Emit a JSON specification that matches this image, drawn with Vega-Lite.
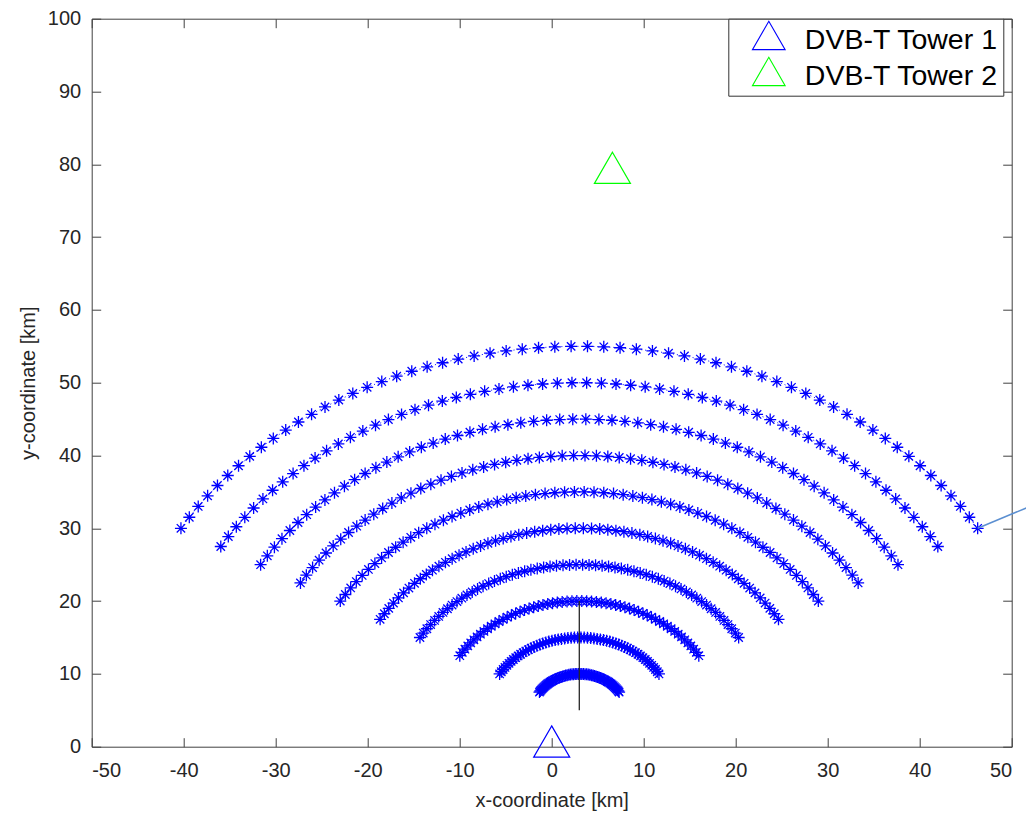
{
"$schema": "https://vega.github.io/schema/vega-lite/v6.json",
"width": 920,
"height": 728,
"autosize": {"type": "none"},
"padding": {"left": 91.7, "top": 18.7, "right": 14.3, "bottom": 68.3},
"background": "white",
"config": {
  "view": {"stroke": null},
  "font": "Liberation Sans",
  "axis": {"grid": false, "domainColor": "#404040", "tickColor": "#404040", "labelColor": "#262626", "titleColor": "#262626", "labelFont": "Liberation Sans", "titleFont": "Liberation Sans", "labelFontSize": 20, "titleFontSize": 20, "titleFontWeight": "normal", "tickSize": -9, "domainWidth": 1, "tickWidth": 1, "labelExpr": "replace(datum.label, '\u2212', '-')"}
},
"datasets": {
  "arcs": [
{"r":50,"x":2.11,"y":54.99},{"r":50,"x":0.34,"y":54.93},{"r":50,"x":-1.43,"y":54.80},{"r":50,"x":-3.20,"y":54.61},{"r":50,"x":-4.95,"y":54.36},{"r":50,"x":-6.70,"y":54.05},{"r":50,"x":-8.43,"y":53.68},{"r":50,"x":-10.16,"y":53.24},{"r":50,"x":-11.86,"y":52.74},{"r":50,"x":-13.54,"y":52.18},{"r":50,"x":-15.21,"y":51.57},{"r":50,"x":-16.85,"y":50.89},{"r":50,"x":-18.47,"y":50.16},{"r":50,"x":-20.06,"y":49.37},{"r":50,"x":-21.62,"y":48.52},{"r":50,"x":-23.14,"y":47.62},{"r":50,"x":-24.64,"y":46.67},{"r":50,"x":-26.10,"y":45.66},{"r":50,"x":-27.53,"y":44.60},{"r":50,"x":-28.91,"y":43.49},{"r":50,"x":-30.26,"y":42.34},{"r":50,"x":-31.56,"y":41.13},{"r":50,"x":-32.82,"y":39.88},{"r":50,"x":-34.04,"y":38.59},{"r":50,"x":-35.21,"y":37.25},{"r":50,"x":-36.33,"y":35.88},{"r":50,"x":-37.40,"y":34.46},{"r":50,"x":-38.42,"y":33.01},{"r":50,"x":-39.39,"y":31.52},{"r":50,"x":-40.30,"y":30.00},
{"r":50,"x":3.89,"y":54.99},{"r":50,"x":5.66,"y":54.93},{"r":50,"x":7.43,"y":54.80},{"r":50,"x":9.20,"y":54.61},{"r":50,"x":10.95,"y":54.36},{"r":50,"x":12.70,"y":54.05},{"r":50,"x":14.43,"y":53.68},{"r":50,"x":16.16,"y":53.24},{"r":50,"x":17.86,"y":52.74},{"r":50,"x":19.54,"y":52.18},{"r":50,"x":21.21,"y":51.57},{"r":50,"x":22.85,"y":50.89},{"r":50,"x":24.47,"y":50.16},{"r":50,"x":26.06,"y":49.37},{"r":50,"x":27.62,"y":48.52},{"r":50,"x":29.14,"y":47.62},{"r":50,"x":30.64,"y":46.67},{"r":50,"x":32.10,"y":45.66},{"r":50,"x":33.53,"y":44.60},{"r":50,"x":34.91,"y":43.49},{"r":50,"x":36.26,"y":42.34},{"r":50,"x":37.56,"y":41.13},{"r":50,"x":38.82,"y":39.88},{"r":50,"x":40.04,"y":38.59},{"r":50,"x":41.21,"y":37.25},{"r":50,"x":42.33,"y":35.88},{"r":50,"x":43.40,"y":34.46},{"r":50,"x":44.42,"y":33.01},{"r":50,"x":45.39,"y":31.52},{"r":50,"x":46.30,"y":30.00},
{"r":45,"x":2.20,"y":49.99},{"r":45,"x":0.61,"y":49.94},{"r":45,"x":-0.99,"y":49.82},{"r":45,"x":-2.58,"y":49.65},{"r":45,"x":-4.16,"y":49.43},{"r":45,"x":-5.73,"y":49.15},{"r":45,"x":-7.29,"y":48.81},{"r":45,"x":-8.84,"y":48.41},{"r":45,"x":-10.37,"y":47.97},{"r":45,"x":-11.89,"y":47.47},{"r":45,"x":-13.39,"y":46.91},{"r":45,"x":-14.86,"y":46.30},{"r":45,"x":-16.32,"y":45.64},{"r":45,"x":-17.75,"y":44.93},{"r":45,"x":-19.15,"y":44.17},{"r":45,"x":-20.53,"y":43.36},{"r":45,"x":-21.88,"y":42.50},{"r":45,"x":-23.19,"y":41.59},{"r":45,"x":-24.47,"y":40.64},{"r":45,"x":-25.72,"y":39.64},{"r":45,"x":-26.93,"y":38.60},{"r":45,"x":-28.11,"y":37.52},{"r":45,"x":-29.24,"y":36.39},{"r":45,"x":-30.34,"y":35.23},{"r":45,"x":-31.39,"y":34.03},{"r":45,"x":-32.40,"y":32.79},{"r":45,"x":-33.36,"y":31.51},{"r":45,"x":-34.28,"y":30.21},{"r":45,"x":-35.15,"y":28.87},{"r":45,"x":-35.97,"y":27.50},
{"r":45,"x":3.80,"y":49.99},{"r":45,"x":5.40,"y":49.94},{"r":45,"x":6.99,"y":49.82},{"r":45,"x":8.58,"y":49.65},{"r":45,"x":10.16,"y":49.43},{"r":45,"x":11.73,"y":49.15},{"r":45,"x":13.29,"y":48.81},{"r":45,"x":14.84,"y":48.41},{"r":45,"x":16.37,"y":47.97},{"r":45,"x":17.89,"y":47.47},{"r":45,"x":19.39,"y":46.91},{"r":45,"x":20.86,"y":46.30},{"r":45,"x":22.32,"y":45.64},{"r":45,"x":23.75,"y":44.93},{"r":45,"x":25.15,"y":44.17},{"r":45,"x":26.53,"y":43.36},{"r":45,"x":27.88,"y":42.50},{"r":45,"x":29.19,"y":41.59},{"r":45,"x":30.47,"y":40.64},{"r":45,"x":31.72,"y":39.64},{"r":45,"x":32.93,"y":38.60},{"r":45,"x":34.11,"y":37.52},{"r":45,"x":35.24,"y":36.39},{"r":45,"x":36.34,"y":35.23},{"r":45,"x":37.39,"y":34.03},{"r":45,"x":38.40,"y":32.79},{"r":45,"x":39.36,"y":31.51},{"r":45,"x":40.28,"y":30.21},{"r":45,"x":41.15,"y":28.87},{"r":45,"x":41.97,"y":27.50},
{"r":40,"x":2.29,"y":44.99},{"r":40,"x":0.87,"y":44.94},{"r":40,"x":-0.55,"y":44.84},{"r":40,"x":-1.96,"y":44.69},{"r":40,"x":-3.36,"y":44.49},{"r":40,"x":-4.76,"y":44.24},{"r":40,"x":-6.15,"y":43.94},{"r":40,"x":-7.52,"y":43.59},{"r":40,"x":-8.89,"y":43.19},{"r":40,"x":-10.24,"y":42.75},{"r":40,"x":-11.57,"y":42.25},{"r":40,"x":-12.88,"y":41.71},{"r":40,"x":-14.17,"y":41.13},{"r":40,"x":-15.44,"y":40.49},{"r":40,"x":-16.69,"y":39.82},{"r":40,"x":-17.92,"y":39.10},{"r":40,"x":-19.11,"y":38.33},{"r":40,"x":-20.28,"y":37.53},{"r":40,"x":-21.42,"y":36.68},{"r":40,"x":-22.53,"y":35.79},{"r":40,"x":-23.61,"y":34.87},{"r":40,"x":-24.65,"y":33.90},{"r":40,"x":-25.66,"y":32.91},{"r":40,"x":-26.63,"y":31.87},{"r":40,"x":-27.57,"y":30.80},{"r":40,"x":-28.46,"y":29.70},{"r":40,"x":-29.32,"y":28.57},{"r":40,"x":-30.14,"y":27.41},{"r":40,"x":-30.91,"y":26.22},{"r":40,"x":-31.64,"y":25.00},
{"r":40,"x":3.71,"y":44.99},{"r":40,"x":5.13,"y":44.94},{"r":40,"x":6.55,"y":44.84},{"r":40,"x":7.96,"y":44.69},{"r":40,"x":9.36,"y":44.49},{"r":40,"x":10.76,"y":44.24},{"r":40,"x":12.15,"y":43.94},{"r":40,"x":13.52,"y":43.59},{"r":40,"x":14.89,"y":43.19},{"r":40,"x":16.24,"y":42.75},{"r":40,"x":17.57,"y":42.25},{"r":40,"x":18.88,"y":41.71},{"r":40,"x":20.17,"y":41.13},{"r":40,"x":21.44,"y":40.49},{"r":40,"x":22.69,"y":39.82},{"r":40,"x":23.92,"y":39.10},{"r":40,"x":25.11,"y":38.33},{"r":40,"x":26.28,"y":37.53},{"r":40,"x":27.42,"y":36.68},{"r":40,"x":28.53,"y":35.79},{"r":40,"x":29.61,"y":34.87},{"r":40,"x":30.65,"y":33.90},{"r":40,"x":31.66,"y":32.91},{"r":40,"x":32.63,"y":31.87},{"r":40,"x":33.57,"y":30.80},{"r":40,"x":34.46,"y":29.70},{"r":40,"x":35.32,"y":28.57},{"r":40,"x":36.14,"y":27.41},{"r":40,"x":36.91,"y":26.22},{"r":40,"x":37.64,"y":25.00},
{"r":35,"x":2.38,"y":39.99},{"r":35,"x":1.14,"y":39.95},{"r":35,"x":-0.10,"y":39.86},{"r":35,"x":-1.34,"y":39.73},{"r":35,"x":-2.57,"y":39.55},{"r":35,"x":-3.79,"y":39.34},{"r":35,"x":-5.00,"y":39.07},{"r":35,"x":-6.21,"y":38.77},{"r":35,"x":-7.40,"y":38.42},{"r":35,"x":-8.58,"y":38.03},{"r":35,"x":-9.75,"y":37.60},{"r":35,"x":-10.90,"y":37.12},{"r":35,"x":-12.03,"y":36.61},{"r":35,"x":-13.14,"y":36.06},{"r":35,"x":-14.23,"y":35.47},{"r":35,"x":-15.30,"y":34.83},{"r":35,"x":-16.35,"y":34.17},{"r":35,"x":-17.37,"y":33.46},{"r":35,"x":-18.37,"y":32.72},{"r":35,"x":-19.34,"y":31.94},{"r":35,"x":-20.28,"y":31.13},{"r":35,"x":-21.19,"y":30.29},{"r":35,"x":-22.08,"y":29.42},{"r":35,"x":-22.93,"y":28.51},{"r":35,"x":-23.75,"y":27.58},{"r":35,"x":-24.53,"y":26.61},{"r":35,"x":-25.28,"y":25.62},{"r":35,"x":-25.99,"y":24.61},{"r":35,"x":-26.67,"y":23.56},{"r":35,"x":-27.31,"y":22.50},
{"r":35,"x":3.62,"y":39.99},{"r":35,"x":4.86,"y":39.95},{"r":35,"x":6.10,"y":39.86},{"r":35,"x":7.34,"y":39.73},{"r":35,"x":8.57,"y":39.55},{"r":35,"x":9.79,"y":39.34},{"r":35,"x":11.00,"y":39.07},{"r":35,"x":12.21,"y":38.77},{"r":35,"x":13.40,"y":38.42},{"r":35,"x":14.58,"y":38.03},{"r":35,"x":15.75,"y":37.60},{"r":35,"x":16.90,"y":37.12},{"r":35,"x":18.03,"y":36.61},{"r":35,"x":19.14,"y":36.06},{"r":35,"x":20.23,"y":35.47},{"r":35,"x":21.30,"y":34.83},{"r":35,"x":22.35,"y":34.17},{"r":35,"x":23.37,"y":33.46},{"r":35,"x":24.37,"y":32.72},{"r":35,"x":25.34,"y":31.94},{"r":35,"x":26.28,"y":31.13},{"r":35,"x":27.19,"y":30.29},{"r":35,"x":28.08,"y":29.42},{"r":35,"x":28.93,"y":28.51},{"r":35,"x":29.75,"y":27.58},{"r":35,"x":30.53,"y":26.61},{"r":35,"x":31.28,"y":25.62},{"r":35,"x":31.99,"y":24.61},{"r":35,"x":32.67,"y":23.56},{"r":35,"x":33.31,"y":22.50},
{"r":30,"x":2.47,"y":35.00},{"r":30,"x":1.40,"y":34.96},{"r":30,"x":0.34,"y":34.88},{"r":30,"x":-0.72,"y":34.77},{"r":30,"x":-1.77,"y":34.62},{"r":30,"x":-2.82,"y":34.43},{"r":30,"x":-3.86,"y":34.21},{"r":30,"x":-4.89,"y":33.94},{"r":30,"x":-5.92,"y":33.64},{"r":30,"x":-6.93,"y":33.31},{"r":30,"x":-7.93,"y":32.94},{"r":30,"x":-8.91,"y":32.53},{"r":30,"x":-9.88,"y":32.09},{"r":30,"x":-10.83,"y":31.62},{"r":30,"x":-11.77,"y":31.11},{"r":30,"x":-12.69,"y":30.57},{"r":30,"x":-13.58,"y":30.00},{"r":30,"x":-14.46,"y":29.40},{"r":30,"x":-15.32,"y":28.76},{"r":30,"x":-16.15,"y":28.09},{"r":30,"x":-16.96,"y":27.40},{"r":30,"x":-17.74,"y":26.68},{"r":30,"x":-18.49,"y":25.93},{"r":30,"x":-19.22,"y":25.15},{"r":30,"x":-19.92,"y":24.35},{"r":30,"x":-20.60,"y":23.53},{"r":30,"x":-21.24,"y":22.68},{"r":30,"x":-21.85,"y":21.81},{"r":30,"x":-22.43,"y":20.91},{"r":30,"x":-22.98,"y":20.00},
{"r":30,"x":3.53,"y":35.00},{"r":30,"x":4.60,"y":34.96},{"r":30,"x":5.66,"y":34.88},{"r":30,"x":6.72,"y":34.77},{"r":30,"x":7.77,"y":34.62},{"r":30,"x":8.82,"y":34.43},{"r":30,"x":9.86,"y":34.21},{"r":30,"x":10.89,"y":33.94},{"r":30,"x":11.92,"y":33.64},{"r":30,"x":12.93,"y":33.31},{"r":30,"x":13.93,"y":32.94},{"r":30,"x":14.91,"y":32.53},{"r":30,"x":15.88,"y":32.09},{"r":30,"x":16.83,"y":31.62},{"r":30,"x":17.77,"y":31.11},{"r":30,"x":18.69,"y":30.57},{"r":30,"x":19.58,"y":30.00},{"r":30,"x":20.46,"y":29.40},{"r":30,"x":21.32,"y":28.76},{"r":30,"x":22.15,"y":28.09},{"r":30,"x":22.96,"y":27.40},{"r":30,"x":23.74,"y":26.68},{"r":30,"x":24.49,"y":25.93},{"r":30,"x":25.22,"y":25.15},{"r":30,"x":25.92,"y":24.35},{"r":30,"x":26.60,"y":23.53},{"r":30,"x":27.24,"y":22.68},{"r":30,"x":27.85,"y":21.81},{"r":30,"x":28.43,"y":20.91},{"r":30,"x":28.98,"y":20.00},
{"r":25,"x":2.56,"y":30.00},{"r":25,"x":1.67,"y":29.96},{"r":25,"x":0.78,"y":29.90},{"r":25,"x":-0.10,"y":29.81},{"r":25,"x":-0.98,"y":29.68},{"r":25,"x":-1.85,"y":29.53},{"r":25,"x":-2.72,"y":29.34},{"r":25,"x":-3.58,"y":29.12},{"r":25,"x":-4.43,"y":28.87},{"r":25,"x":-5.27,"y":28.59},{"r":25,"x":-6.10,"y":28.28},{"r":25,"x":-6.93,"y":27.95},{"r":25,"x":-7.73,"y":27.58},{"r":25,"x":-8.53,"y":27.18},{"r":25,"x":-9.31,"y":26.76},{"r":25,"x":-10.07,"y":26.31},{"r":25,"x":-10.82,"y":25.83},{"r":25,"x":-11.55,"y":25.33},{"r":25,"x":-12.26,"y":24.80},{"r":25,"x":-12.96,"y":24.25},{"r":25,"x":-13.63,"y":23.67},{"r":25,"x":-14.28,"y":23.07},{"r":25,"x":-14.91,"y":22.44},{"r":25,"x":-15.52,"y":21.79},{"r":25,"x":-16.10,"y":21.13},{"r":25,"x":-16.66,"y":20.44},{"r":25,"x":-17.20,"y":19.73},{"r":25,"x":-17.71,"y":19.00},{"r":25,"x":-18.19,"y":18.26},{"r":25,"x":-18.65,"y":17.50},
{"r":25,"x":3.44,"y":30.00},{"r":25,"x":4.33,"y":29.96},{"r":25,"x":5.22,"y":29.90},{"r":25,"x":6.10,"y":29.81},{"r":25,"x":6.98,"y":29.68},{"r":25,"x":7.85,"y":29.53},{"r":25,"x":8.72,"y":29.34},{"r":25,"x":9.58,"y":29.12},{"r":25,"x":10.43,"y":28.87},{"r":25,"x":11.27,"y":28.59},{"r":25,"x":12.10,"y":28.28},{"r":25,"x":12.93,"y":27.95},{"r":25,"x":13.73,"y":27.58},{"r":25,"x":14.53,"y":27.18},{"r":25,"x":15.31,"y":26.76},{"r":25,"x":16.07,"y":26.31},{"r":25,"x":16.82,"y":25.83},{"r":25,"x":17.55,"y":25.33},{"r":25,"x":18.26,"y":24.80},{"r":25,"x":18.96,"y":24.25},{"r":25,"x":19.63,"y":23.67},{"r":25,"x":20.28,"y":23.07},{"r":25,"x":20.91,"y":22.44},{"r":25,"x":21.52,"y":21.79},{"r":25,"x":22.10,"y":21.13},{"r":25,"x":22.66,"y":20.44},{"r":25,"x":23.20,"y":19.73},{"r":25,"x":23.71,"y":19.00},{"r":25,"x":24.19,"y":18.26},{"r":25,"x":24.65,"y":17.50},
{"r":20,"x":2.65,"y":25.00},{"r":20,"x":1.94,"y":24.97},{"r":20,"x":1.23,"y":24.92},{"r":20,"x":0.52,"y":24.85},{"r":20,"x":-0.18,"y":24.75},{"r":20,"x":-0.88,"y":24.62},{"r":20,"x":-1.57,"y":24.47},{"r":20,"x":-2.26,"y":24.30},{"r":20,"x":-2.94,"y":24.10},{"r":20,"x":-3.62,"y":23.87},{"r":20,"x":-4.28,"y":23.63},{"r":20,"x":-4.94,"y":23.36},{"r":20,"x":-5.59,"y":23.06},{"r":20,"x":-6.22,"y":22.75},{"r":20,"x":-6.85,"y":22.41},{"r":20,"x":-7.46,"y":22.05},{"r":20,"x":-8.06,"y":21.67},{"r":20,"x":-8.64,"y":21.26},{"r":20,"x":-9.21,"y":20.84},{"r":20,"x":-9.77,"y":20.40},{"r":20,"x":-10.30,"y":19.93},{"r":20,"x":-10.83,"y":19.45},{"r":20,"x":-11.33,"y":18.95},{"r":20,"x":-11.82,"y":18.44},{"r":20,"x":-12.28,"y":17.90},{"r":20,"x":-12.73,"y":17.35},{"r":20,"x":-13.16,"y":16.78},{"r":20,"x":-13.57,"y":16.20},{"r":20,"x":-13.96,"y":15.61},{"r":20,"x":-14.32,"y":15.00},
{"r":20,"x":3.36,"y":25.00},{"r":20,"x":4.06,"y":24.97},{"r":20,"x":4.77,"y":24.92},{"r":20,"x":5.48,"y":24.85},{"r":20,"x":6.18,"y":24.75},{"r":20,"x":6.88,"y":24.62},{"r":20,"x":7.57,"y":24.47},{"r":20,"x":8.26,"y":24.30},{"r":20,"x":8.94,"y":24.10},{"r":20,"x":9.62,"y":23.87},{"r":20,"x":10.28,"y":23.63},{"r":20,"x":10.94,"y":23.36},{"r":20,"x":11.59,"y":23.06},{"r":20,"x":12.22,"y":22.75},{"r":20,"x":12.85,"y":22.41},{"r":20,"x":13.46,"y":22.05},{"r":20,"x":14.06,"y":21.67},{"r":20,"x":14.64,"y":21.26},{"r":20,"x":15.21,"y":20.84},{"r":20,"x":15.77,"y":20.40},{"r":20,"x":16.30,"y":19.93},{"r":20,"x":16.83,"y":19.45},{"r":20,"x":17.33,"y":18.95},{"r":20,"x":17.82,"y":18.44},{"r":20,"x":18.28,"y":17.90},{"r":20,"x":18.73,"y":17.35},{"r":20,"x":19.16,"y":16.78},{"r":20,"x":19.57,"y":16.20},{"r":20,"x":19.96,"y":15.61},{"r":20,"x":20.32,"y":15.00},
{"r":15,"x":2.73,"y":20.00},{"r":15,"x":2.20,"y":19.98},{"r":15,"x":1.67,"y":19.94},{"r":15,"x":1.14,"y":19.88},{"r":15,"x":0.61,"y":19.81},{"r":15,"x":0.09,"y":19.72},{"r":15,"x":-0.43,"y":19.60},{"r":15,"x":-0.95,"y":19.47},{"r":15,"x":-1.46,"y":19.32},{"r":15,"x":-1.96,"y":19.16},{"r":15,"x":-2.46,"y":18.97},{"r":15,"x":-2.96,"y":18.77},{"r":15,"x":-3.44,"y":18.55},{"r":15,"x":-3.92,"y":18.31},{"r":15,"x":-4.38,"y":18.06},{"r":15,"x":-4.84,"y":17.79},{"r":15,"x":-5.29,"y":17.50},{"r":15,"x":-5.73,"y":17.20},{"r":15,"x":-6.16,"y":16.88},{"r":15,"x":-6.57,"y":16.55},{"r":15,"x":-6.98,"y":16.20},{"r":15,"x":-7.37,"y":15.84},{"r":15,"x":-7.75,"y":15.46},{"r":15,"x":-8.11,"y":15.08},{"r":15,"x":-8.46,"y":14.68},{"r":15,"x":-8.80,"y":14.26},{"r":15,"x":-9.12,"y":13.84},{"r":15,"x":-9.43,"y":13.40},{"r":15,"x":-9.72,"y":12.96},{"r":15,"x":-9.99,"y":12.50},
{"r":15,"x":3.27,"y":20.00},{"r":15,"x":3.80,"y":19.98},{"r":15,"x":4.33,"y":19.94},{"r":15,"x":4.86,"y":19.88},{"r":15,"x":5.39,"y":19.81},{"r":15,"x":5.91,"y":19.72},{"r":15,"x":6.43,"y":19.60},{"r":15,"x":6.95,"y":19.47},{"r":15,"x":7.46,"y":19.32},{"r":15,"x":7.96,"y":19.16},{"r":15,"x":8.46,"y":18.97},{"r":15,"x":8.96,"y":18.77},{"r":15,"x":9.44,"y":18.55},{"r":15,"x":9.92,"y":18.31},{"r":15,"x":10.38,"y":18.06},{"r":15,"x":10.84,"y":17.79},{"r":15,"x":11.29,"y":17.50},{"r":15,"x":11.73,"y":17.20},{"r":15,"x":12.16,"y":16.88},{"r":15,"x":12.57,"y":16.55},{"r":15,"x":12.98,"y":16.20},{"r":15,"x":13.37,"y":15.84},{"r":15,"x":13.75,"y":15.46},{"r":15,"x":14.11,"y":15.08},{"r":15,"x":14.46,"y":14.68},{"r":15,"x":14.80,"y":14.26},{"r":15,"x":15.12,"y":13.84},{"r":15,"x":15.43,"y":13.40},{"r":15,"x":15.72,"y":12.96},{"r":15,"x":15.99,"y":12.50},
{"r":10,"x":2.82,"y":15.00},{"r":10,"x":2.47,"y":14.99},{"r":10,"x":2.11,"y":14.96},{"r":10,"x":1.76,"y":14.92},{"r":10,"x":1.41,"y":14.87},{"r":10,"x":1.06,"y":14.81},{"r":10,"x":0.71,"y":14.74},{"r":10,"x":0.37,"y":14.65},{"r":10,"x":0.03,"y":14.55},{"r":10,"x":-0.31,"y":14.44},{"r":10,"x":-0.64,"y":14.31},{"r":10,"x":-0.97,"y":14.18},{"r":10,"x":-1.29,"y":14.03},{"r":10,"x":-1.61,"y":13.87},{"r":10,"x":-1.92,"y":13.70},{"r":10,"x":-2.23,"y":13.52},{"r":10,"x":-2.53,"y":13.33},{"r":10,"x":-2.82,"y":13.13},{"r":10,"x":-3.11,"y":12.92},{"r":10,"x":-3.38,"y":12.70},{"r":10,"x":-3.65,"y":12.47},{"r":10,"x":-3.91,"y":12.23},{"r":10,"x":-4.17,"y":11.98},{"r":10,"x":-4.41,"y":11.72},{"r":10,"x":-4.64,"y":11.45},{"r":10,"x":-4.87,"y":11.18},{"r":10,"x":-5.08,"y":10.89},{"r":10,"x":-5.28,"y":10.60},{"r":10,"x":-5.48,"y":10.30},{"r":10,"x":-5.66,"y":10.00},
{"r":10,"x":3.18,"y":15.00},{"r":10,"x":3.53,"y":14.99},{"r":10,"x":3.89,"y":14.96},{"r":10,"x":4.24,"y":14.92},{"r":10,"x":4.59,"y":14.87},{"r":10,"x":4.94,"y":14.81},{"r":10,"x":5.29,"y":14.74},{"r":10,"x":5.63,"y":14.65},{"r":10,"x":5.97,"y":14.55},{"r":10,"x":6.31,"y":14.44},{"r":10,"x":6.64,"y":14.31},{"r":10,"x":6.97,"y":14.18},{"r":10,"x":7.29,"y":14.03},{"r":10,"x":7.61,"y":13.87},{"r":10,"x":7.92,"y":13.70},{"r":10,"x":8.23,"y":13.52},{"r":10,"x":8.53,"y":13.33},{"r":10,"x":8.82,"y":13.13},{"r":10,"x":9.11,"y":12.92},{"r":10,"x":9.38,"y":12.70},{"r":10,"x":9.65,"y":12.47},{"r":10,"x":9.91,"y":12.23},{"r":10,"x":10.17,"y":11.98},{"r":10,"x":10.41,"y":11.72},{"r":10,"x":10.64,"y":11.45},{"r":10,"x":10.87,"y":11.18},{"r":10,"x":11.08,"y":10.89},{"r":10,"x":11.28,"y":10.60},{"r":10,"x":11.48,"y":10.30},{"r":10,"x":11.66,"y":10.00},
{"r":5,"x":2.91,"y":10.00},{"r":5,"x":2.73,"y":9.99},{"r":5,"x":2.56,"y":9.98},{"r":5,"x":2.38,"y":9.96},{"r":5,"x":2.21,"y":9.94},{"r":5,"x":2.03,"y":9.91},{"r":5,"x":1.86,"y":9.87},{"r":5,"x":1.68,"y":9.82},{"r":5,"x":1.51,"y":9.77},{"r":5,"x":1.35,"y":9.72},{"r":5,"x":1.18,"y":9.66},{"r":5,"x":1.02,"y":9.59},{"r":5,"x":0.85,"y":9.52},{"r":5,"x":0.69,"y":9.44},{"r":5,"x":0.54,"y":9.35},{"r":5,"x":0.39,"y":9.26},{"r":5,"x":0.24,"y":9.17},{"r":5,"x":0.09,"y":9.07},{"r":5,"x":-0.05,"y":8.96},{"r":5,"x":-0.19,"y":8.85},{"r":5,"x":-0.33,"y":8.73},{"r":5,"x":-0.46,"y":8.61},{"r":5,"x":-0.58,"y":8.49},{"r":5,"x":-0.70,"y":8.36},{"r":5,"x":-0.82,"y":8.23},{"r":5,"x":-0.93,"y":8.09},{"r":5,"x":-1.04,"y":7.95},{"r":5,"x":-1.14,"y":7.80},{"r":5,"x":-1.24,"y":7.65},{"r":5,"x":-1.33,"y":7.50},
{"r":5,"x":3.09,"y":10.00},{"r":5,"x":3.27,"y":9.99},{"r":5,"x":3.44,"y":9.98},{"r":5,"x":3.62,"y":9.96},{"r":5,"x":3.80,"y":9.94},{"r":5,"x":3.97,"y":9.91},{"r":5,"x":4.14,"y":9.87},{"r":5,"x":4.32,"y":9.82},{"r":5,"x":4.49,"y":9.77},{"r":5,"x":4.65,"y":9.72},{"r":5,"x":4.82,"y":9.66},{"r":5,"x":4.98,"y":9.59},{"r":5,"x":5.15,"y":9.52},{"r":5,"x":5.31,"y":9.44},{"r":5,"x":5.46,"y":9.35},{"r":5,"x":5.61,"y":9.26},{"r":5,"x":5.76,"y":9.17},{"r":5,"x":5.91,"y":9.07},{"r":5,"x":6.05,"y":8.96},{"r":5,"x":6.19,"y":8.85},{"r":5,"x":6.33,"y":8.73},{"r":5,"x":6.46,"y":8.61},{"r":5,"x":6.58,"y":8.49},{"r":5,"x":6.70,"y":8.36},{"r":5,"x":6.82,"y":8.23},{"r":5,"x":6.93,"y":8.09},{"r":5,"x":7.04,"y":7.95},{"r":5,"x":7.14,"y":7.80},{"r":5,"x":7.24,"y":7.65},{"r":5,"x":7.33,"y":7.50}
  ],
  "towers": [
    {"name": "DVB-T Tower 1", "x": 0, "y": 0},
    {"name": "DVB-T Tower 2", "x": 6.6, "y": 78.8}
  ],
  "marker": [{"x": 3, "y": 5, "y2": 20}],
  "pointer": [{"x": 46.3, "y": 30}, {"x": 51.6, "y": 32.8}]
},
"layer": [
  {
    "data": {"name": "arcs"},
    "mark": {"type": "line", "color": "#0000FF", "strokeWidth": 1, "strokeDash": [1, 3]},
    "encoding": {
      "x": {"field": "x", "type": "quantitative", "scale": {"domain": [-50, 50], "nice": false, "zero": false},
        "axis": {"orient": "bottom", "values": [-50,-40,-30,-20,-10,0,10,20,30,40,50], "labelPadding": 23, "title": "x-coordinate [km]", "titleBaseline": "alphabetic", "titleY": 60}},
      "y": {"field": "y", "type": "quantitative", "scale": {"domain": [0, 100], "nice": false, "zero": false},
        "axis": {"orient": "left", "values": [0,10,20,30,40,50,60,70,80,90,100], "labelPadding": 20, "title": "y-coordinate [km]", "titleAngle": 270, "titleBaseline": "alphabetic", "titleAlign": "center", "titleX": -57, "titleY": 364}},
      "detail": {"field": "r", "type": "nominal"}
    }
  },
  {
    "data": {"name": "arcs"},
    "mark": {"type": "point", "shape": "M0,-1L0,1M-1,0L1,0M-0.7,-0.7L0.7,0.7M-0.7,0.7L0.7,-0.7", "size": 144, "filled": false, "color": "#0000FF", "strokeWidth": 1.3, "opacity": 1},
    "encoding": {
      "x": {"field": "x", "type": "quantitative", "axis": null},
      "y": {"field": "y", "type": "quantitative", "axis": null}
    }
  },
  {
    "data": {"name": "marker"},
    "mark": {"type": "rule", "color": "#262626", "strokeWidth": 1.3},
    "encoding": {
      "x": {"field": "x", "type": "quantitative", "axis": null},
      "y": {"field": "y", "type": "quantitative", "axis": null},
      "y2": {"field": "y2"}
    }
  },
  {
    "data": {"name": "pointer"},
    "mark": {"type": "line", "color": "#5b8fd1", "strokeWidth": 1.5, "clip": false},
    "encoding": {
      "x": {"field": "x", "type": "quantitative", "axis": null},
      "y": {"field": "y", "type": "quantitative", "axis": null}
    }
  },
  {
    "data": {"name": "towers"},
    "mark": {"type": "point", "shape": "M0,-1.1547L1,0.5774L-1,0.5774Z", "size": 1296, "filled": false, "strokeWidth": 1.2, "opacity": 1, "clip": false},
    "encoding": {
      "x": {"field": "x", "type": "quantitative", "axis": {"orient": "top", "labels": false, "title": null, "values": [-50,-40,-30,-20,-10,0,10,20,30,40,50]}},
      "y": {"field": "y", "type": "quantitative", "axis": {"orient": "right", "labels": false, "title": null, "values": [0,10,20,30,40,50,60,70,80,90,100]}},
      "color": {"field": "name", "type": "nominal",
        "scale": {"domain": ["DVB-T Tower 1", "DVB-T Tower 2"], "range": ["#0000FF", "#00FF00"]},
        "legend": {"title": null, "orient": "none", "legendX": 636.6, "legendY": 0, "symbolType": "M0,-1.1547L1,0.5774L-1,0.5774Z", "symbolSize": 1069, "symbolStrokeWidth": 1.1, "labelFontSize": 28.5, "labelFont": "Liberation Sans", "labelColor": "#000000", "padding": 4.5, "rowPadding": -1, "symbolOffset": 19, "labelOffset": 19, "strokeColor": "#333333", "fillColor": "#ffffff", "labelLimit": 400}
      }
    }
  }
],
"resolve": {"axis": {"x": "independent", "y": "independent"}}
}
